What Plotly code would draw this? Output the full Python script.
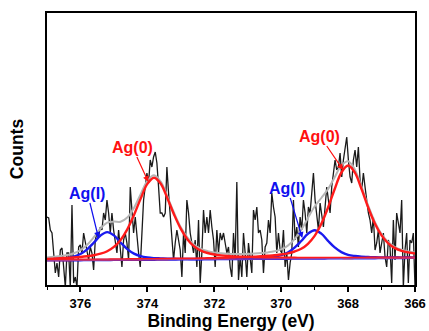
import numpy as np
import plotly.graph_objects as go

# ---- raw XPS spectrum (Ag 3d), counts in arbitrary units ----
counts = [68,67,55,52,32,12,22,8,35,37,
          18,-2,32,32,-2,80,2,8,-2,38,
          40,32,52,42,32,25,38,32,15,45,
          52,48,58,55,72,65,85,72,52,72,
          55,42,32,55,38,18,45,52,42,25,
          98,78,52,68,45,32,18,52,85,98,
          112,102,125,118,128,133,122,98,72,72,
          68,72,118,92,68,45,25,42,55,45,
          35,8,52,32,85,72,52,42,32,45,
          18,65,2,32,75,52,68,52,75,58,
          45,18,55,32,52,45,52,42,32,38,
          18,8,52,25,103,5,28,8,52,32,
          8,42,25,12,75,65,78,52,55,45,
          12,38,42,65,52,92,78,68,32,52,
          35,32,55,18,32,5,22,32,85,45,
          58,38,68,55,85,72,52,78,72,92,
          112,85,72,55,82,68,58,78,98,85,
          72,98,112,125,115,118,132,108,125,138,
          148,125,108,102,125,135,118,138,105,95,
          112,98,82,72,65,52,68,35,42,55,
          32,42,52,28,18,45,38,2,65,25,
          72,62,52,85,-2,35,52,2,45,42,
          52,-2]
energy_start, energy_end = 377.0, 366.0
energy = np.linspace(energy_start, energy_end, len(counts))

# ---- fitted components on a 0.2 eV grid (377 -> 366) ----
ag0_a = [26.1,26.4,26.7,27.1,27.5,28.0,28.7,29.7,31.3,33.8,
         38.1,45.1,55.7,70.0,86.4,101.1,107.2,101.2,86.6,70.3,
         56.1,45.6,38.6,34.4,32.0,30.5,29.6,29.0,28.6,28.3,
         28.0,27.8,27.6,27.5,27.4,27.3,27.2,27.2,27.1,27.1,
         27.1,27.1,27.1,27.1,27.1,27.0,27.1,27.1,27.2,27.2,
         27.2,27.2,27.3,27.3,27.4,27.4]
ag0_b = [24.9,24.9,25.0,25.0,25.1,25.2,25.3,25.3,25.4,25.4,
         25.6,25.6,25.7,25.8,25.8,25.9,25.9,26.0,26.0,26.2,
         26.2,26.4,26.4,26.5,26.7,26.8,27.1,27.3,27.5,27.7,
         28.0,28.3,28.8,29.2,29.7,30.6,31.7,33.5,36.2,41.2,
         49.1,61.2,77.3,96.0,112.5,119.5,112.6,96.1,77.6,61.5,
         49.6,41.7,36.9,34.2,32.6,31.5]
ag1_a = [25.5,25.8,26.3,26.9,28.4,31.0,35.7,42.3,49.5,52.9,
         49.6,42.5,35.9,31.4,28.8,27.5,26.9,26.6,26.3,26.2,
         26.1,26.1,26.0,26.0,26.0,25.9,25.9,25.9,26.0,26.0,
         26.1,26.1,26.2,26.2,26.2,26.3,26.3,26.4,26.4,26.4,
         26.5,26.5,26.6,26.6,26.6,26.7,26.7,26.8,26.8,26.8,
         26.9,26.9,27.0,27.0,27.1,27.1]
ag1_b = [24.6,24.6,24.7,24.7,24.8,24.8,24.9,24.9,25.0,25.0,
         25.1,25.1,25.1,25.2,25.2,25.3,25.3,25.4,25.4,25.5,
         25.6,25.8,25.8,25.8,26.0,26.0,26.2,26.2,26.4,26.5,
         26.7,26.9,27.3,27.7,28.4,29.8,32.5,37.3,44.0,51.3,
         54.8,51.4,44.2,37.6,32.9,30.2,29.0,28.3,28.0,27.7,
         27.6,27.5,27.5,27.4,27.5,27.4]
envelope = [27.6,28.2,28.9,29.9,31.7,34.9,40.2,47.8,56.5,62.4,
            63.4,63.3,67.4,77.1,90.9,104.2,109.7,103.3,88.4,72.0,
            57.8,47.4,40.3,36.2,33.9,32.4,31.7,31.3,31.1,31.1,
            31.1,31.4,31.9,32.6,33.7,35.7,39.4,45.8,55.1,67.1,
            78.5,87.0,95.9,107.8,119.6,123.8,115.6,98.4,79.5,63.1,
            50.9,42.9,38.0,35.2,33.6,32.4]
fit_energy = np.linspace(energy_start, energy_end, len(ag0_a))

background_energy = [377.0, 366.0]
background = [24.5, 27.0]

# ---- peak labels: text, tip (x, y), text centre (x, y), colour ----
label_text = ["Ag(0)", "Ag(0)", "Ag(I)", "Ag(I)"]
label_tip_x = [373.97, 368.15, 375.46, 369.37]
label_tip_y = [103, 115, 47, 47]
label_txt_x = [374.45, 368.84, 375.79, 369.82]
label_txt_y = [138, 149, 92, 97]
label_color = ["#ff1010", "#ff1010", "#1010ee", "#1010ee"]

RED = "#ff1a1a"
BLUE = "#1a1aee"
FONT = "Liberation Sans, Arial"

fig = go.Figure()
fig.add_trace(go.Scatter(x=energy, y=counts, mode="lines",
                         line=dict(color="#1a1a1a", width=1.3), showlegend=False))
fig.add_trace(go.Scatter(x=fit_energy, y=envelope, mode="lines", line_shape="spline",
                         line=dict(color="#b5b5b5", width=2), showlegend=False))
fig.add_trace(go.Scatter(x=fit_energy, y=ag1_a, mode="lines", line_shape="spline",
                         line=dict(color=BLUE, width=2.4), showlegend=False))
fig.add_trace(go.Scatter(x=fit_energy, y=ag1_b, mode="lines", line_shape="spline",
                         line=dict(color=BLUE, width=2.4), showlegend=False))
fig.add_trace(go.Scatter(x=fit_energy, y=ag0_a, mode="lines", line_shape="spline",
                         line=dict(color=RED, width=2.4), showlegend=False))
fig.add_trace(go.Scatter(x=fit_energy, y=ag0_b, mode="lines", line_shape="spline",
                         line=dict(color=RED, width=2.4), showlegend=False))
fig.add_trace(go.Scatter(x=background_energy, y=background, mode="lines",
                         line=dict(color="#a040a0", width=1.2), showlegend=False))

for t, tx, ty, ax, ay, c in zip(label_text, label_tip_x, label_tip_y,
                                label_txt_x, label_txt_y, label_color):
    fig.add_annotation(x=tx, y=ty, ax=ax, ay=ay, xref="x", yref="y",
                       axref="x", ayref="y", text=t, showarrow=True,
                       arrowhead=2, arrowsize=1, arrowwidth=1.2, arrowcolor=c,
                       font=dict(family=FONT, size=16, color=c, weight="bold"))

fig.update_layout(
    width=429, height=331,
    margin=dict(l=47, r=14, t=13, b=46, autoexpand=False),
    paper_bgcolor="white", plot_bgcolor="white",
    font=dict(family=FONT, color="black"),
)
fig.update_xaxes(
    range=[377, 366], showgrid=False, zeroline=False, automargin=False,
    showline=True, mirror=True, linecolor="black", linewidth=2,
    ticks="outside", ticklen=5, tickwidth=1.5, tickcolor="black",
    tick0=366, dtick=2,
    minor=dict(ticks="outside", ticklen=3, tickwidth=1.2, dtick=1, tickcolor="black"),
    tickfont=dict(size=13, weight="bold"),
    title=dict(text="Binding Energy (eV)", font=dict(size=17.5, weight="bold"), standoff=3),
)
fig.update_yaxes(
    range=[0, 272], showgrid=False, zeroline=False, automargin=False,
    showline=True, mirror=True, linecolor="black", linewidth=2,
    ticks="", showticklabels=False,
    title=dict(text="Counts", font=dict(size=17.5, weight="bold"), standoff=17),
)

fig.write_html("out.html")
